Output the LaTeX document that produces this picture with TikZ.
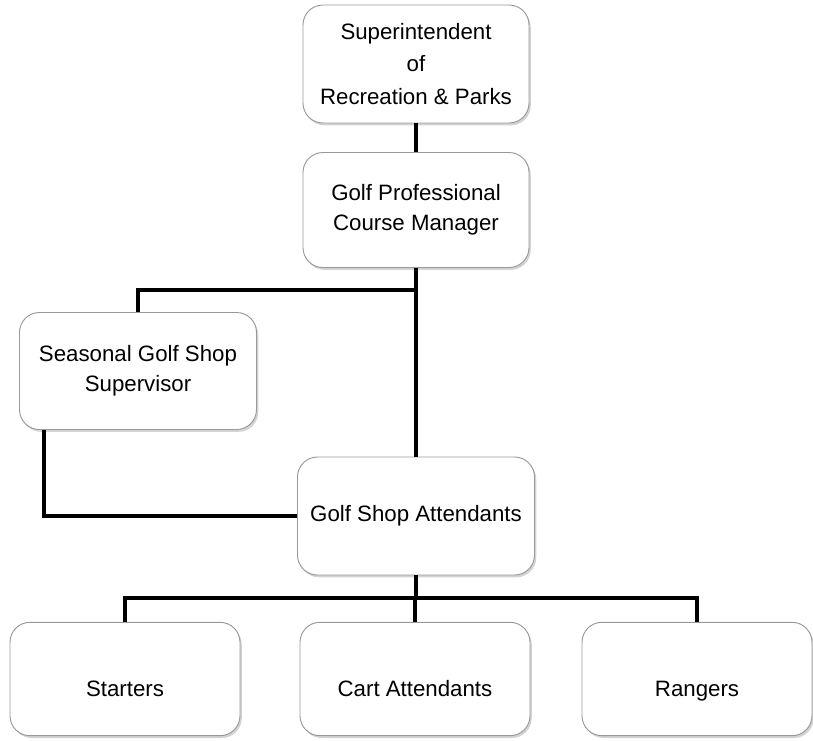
\documentclass[tikz,border=0pt]{standalone}
\usepackage{fontspec}
\setmainfont{Liberation Sans}
\usetikzlibrary{shadows}
\usetikzlibrary{positioning}
\tikzstyle{post}=[rectangle,rounded corners=17pt,draw=black!40,fill=white,line width=0.8pt,align=center,inner sep=0pt,font=\fontsize{19}{26}\selectfont,drop shadow={opacity=0.35,shadow xshift=1.5pt,shadow yshift=-2pt}]
\tikzstyle{link}=[line width=3pt,black]

\begin{document}
\begin{tikzpicture}

  \def\u{0.03};
  \useasboundingbox (0,0) rectangle (813*\u, -740*\u);

  \node[post, minimum width=6.78cm, minimum height=3.54cm, font=\fontsize{19}{28}\selectfont] (sup) at (416*\u, -64*\u) {Superintendent\\of\\Recreation \& Parks};
  \node[post, minimum width=6.78cm, minimum height=3.45cm] (gp) at (416*\u, -210*\u) {Golf Professional\\Course Manager};
  \node[post, minimum width=7.11cm, minimum height=3.51cm] (sgs) at (138*\u, -371*\u) {Seasonal Golf Shop\\Supervisor};
  \node[post, minimum width=7.11cm, minimum height=3.54cm] (gsa) at (416*\u, -516*\u) {Golf Shop Attendants};

  \foreach \x/\name/\label in {125/st/Starters, 415/ca/Cart Attendants, 697/rg/Rangers}
          \node[post, minimum width=6.9cm, minimum height=3.4cm, text height=30pt, text depth=0pt] (\name) at (\x*\u, -679*\u) {\label};

  \coordinate (tee) at (416*\u, -290*\u);
  \coordinate (sgsfoot) at (44*\u, -430*\u);
  \coordinate (bus) at (416*\u, -598*\u);

  \draw[link] (sup) -- (gp);
  \draw[link] (gp) -- (gsa);
  \draw[link] (tee) -| (sgs);
  \draw[link] (sgsfoot) |- (gsa);
  \draw[link] (gsa) -- (bus);
  \foreach \name in {st, ca, rg}
         \draw[link] (bus) -| (\name);

\end{tikzpicture}
\end{document}
